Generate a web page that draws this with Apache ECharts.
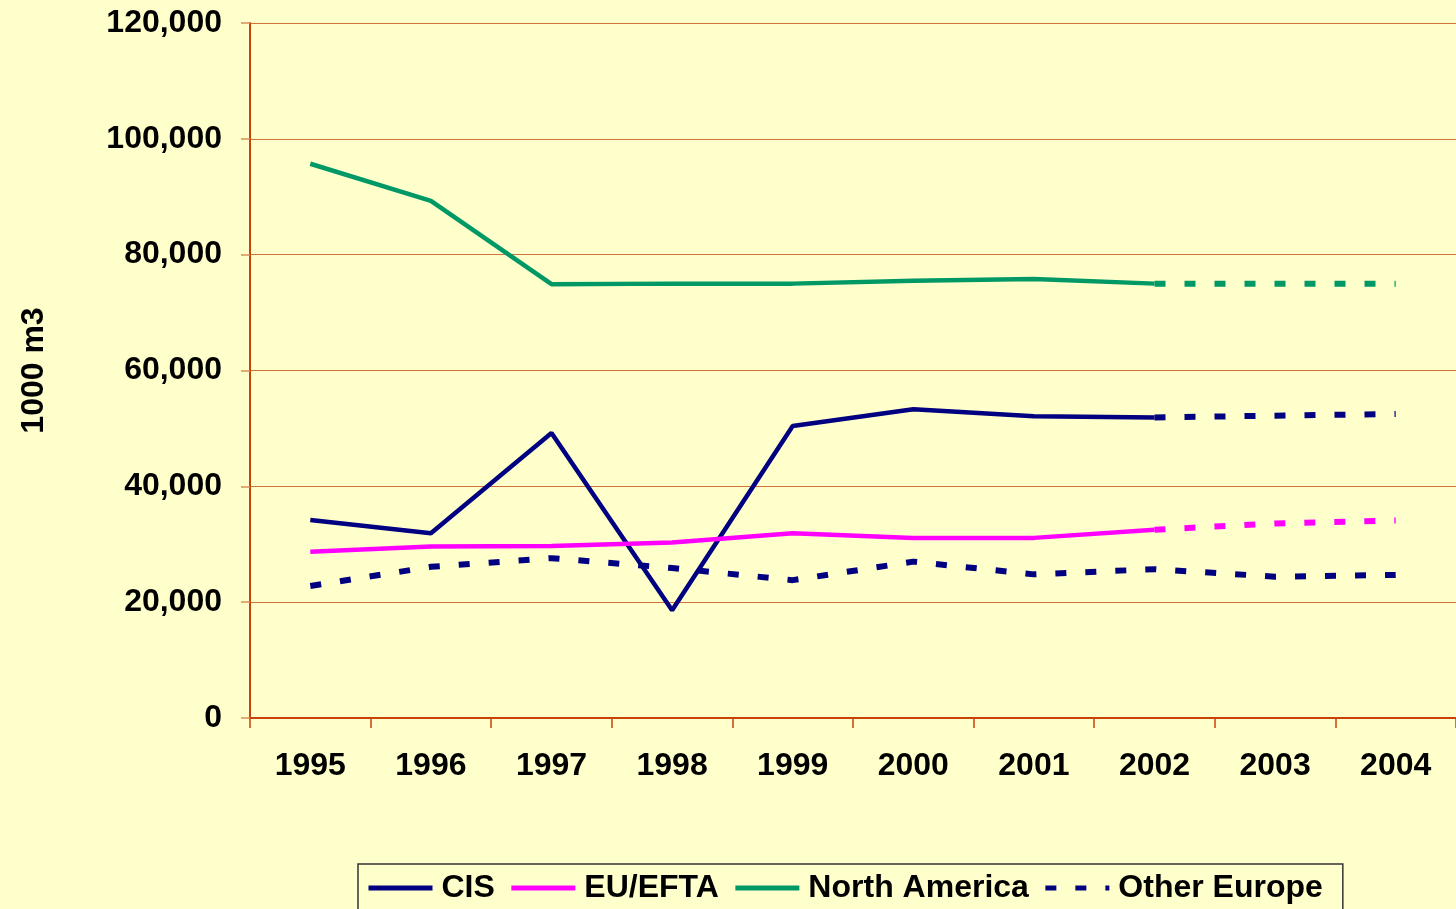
<!DOCTYPE html>
<html>
<head>
<meta charset="utf-8">
<script src="https://cdn.jsdelivr.net/npm/echarts@6/dist/echarts.min.js"></script>
<style>
  html, body { margin: 0; padding: 0; background: #FFFFCC; }
  #chart { width: 1456px; height: 909px; }
</style>
</head>
<body>
<div id="chart"></div>
<script>
const years = ['1995', '1996', '1997', '1998', '1999', '2000', '2001', '2002', '2003', '2004'];
const yTicks = [0, 20000, 40000, 60000, 80000, 100000, 120000];

// actuals 1995-2002
const cis = [34200, 31900, 49200, 18600, 50400, 53300, 52100, 51900];
const euEfta = [28700, 29600, 29700, 30300, 31900, 31100, 31100, 32500];
const northAmerica = [95700, 89300, 74900, 75000, 75000, 75500, 75800, 75000];
// forecasts 2002-2004
const cisForecast = [51900, 52200, 52500];
const euEftaForecast = [32500, 33600, 34100];
const northAmericaForecast = [75000, 75000, 75000];
// Other Europe is drawn dashed for all years
const otherEurope = [22800, 26100, 27600, 25900, 23800, 27000, 24800, 25700, 24400, 24700];

const navy = '#000080';
const pink = '#FF00FF';
const green = '#009966';
const dash = [11, 19];

function pad(actual) {
  return actual.concat(new Array(years.length - actual.length).fill(null));
}
function forecast(vals) {
  return new Array(years.length - vals.length).fill(null).concat(vals);
}

function lineSeries(name, data, color, type) {
  return {
    name: name,
    type: 'line',
    data: data,
    symbol: 'none',
    showSymbol: false,
    connectNulls: false,
    silent: true,
    itemStyle: { color: color },
    lineStyle: { color: color, width: type === 'solid' ? 4.5 : 6, type: type, cap: 'butt' },
  };
}

const chart = echarts.init(document.getElementById('chart'));
chart.setOption({
  backgroundColor: '#FFFFCC',
  animation: false,
  textStyle: { fontFamily: 'Liberation Sans, Arial, sans-serif' },
  grid: { left: 250, top: 23, width: 1210, height: 695, containLabel: false },
  legend: {
    data: ['CIS', 'EU/EFTA', 'North America', 'Other Europe'],
    left: 358,
    top: 864,
    itemWidth: 64,
    itemHeight: 6,
    itemGap: 14,
    padding: [8, 20, 30, 8],
    borderColor: '#333333',
    borderWidth: 1.5,
    backgroundColor: '#FFFFCC',
    itemStyle: { opacity: 0 },
    lineStyle: { width: 5 },
    textStyle: { fontSize: 32, fontWeight: 'bold', color: '#000', padding: [0, 0, 0, 4] },
  },
  xAxis: {
    type: 'category',
    data: years,
    boundaryGap: true,
    axisLine: { lineStyle: { color: '#C8420A', width: 2 } },
    axisTick: { show: true, length: 10, lineStyle: { color: '#C8420A', width: 1.5 } },
    axisLabel: { color: '#000', fontSize: 32, fontWeight: 'bold', margin: 32 },
  },
  yAxis: {
    type: 'value',
    min: yTicks[0],
    max: yTicks[yTicks.length - 1],
    interval: 20000,
    name: '1000 m3',
    nameLocation: 'middle',
    nameGap: 200,
    nameRotate: 90,
    nameTextStyle: { color: '#000', fontSize: 32, fontWeight: 'bold' },
    axisLine: { show: true, lineStyle: { color: '#C8420A', width: 2 } },
    axisTick: { show: true, length: 9, lineStyle: { color: '#D8905A', width: 1.5 } },
    axisLabel: {
      color: '#000', fontSize: 32, fontWeight: 'bold', margin: 28,
      formatter: v => v.toLocaleString('en-US'),
    },
    splitLine: { show: true, lineStyle: { color: '#D2743A', width: 1.2 } },
  },
  series: [
    lineSeries('CIS', pad(cis), navy, 'solid'),
    lineSeries('EU/EFTA', pad(euEfta), pink, 'solid'),
    lineSeries('North America', pad(northAmerica), green, 'solid'),
    lineSeries('Other Europe', otherEurope, navy, dash),
    lineSeries('CIS forecast', forecast(cisForecast), navy, dash),
    lineSeries('EU/EFTA forecast', forecast(euEftaForecast), pink, dash),
    lineSeries('North America forecast', forecast(northAmericaForecast), green, dash),
  ],
});
</script>
</body>
</html>
